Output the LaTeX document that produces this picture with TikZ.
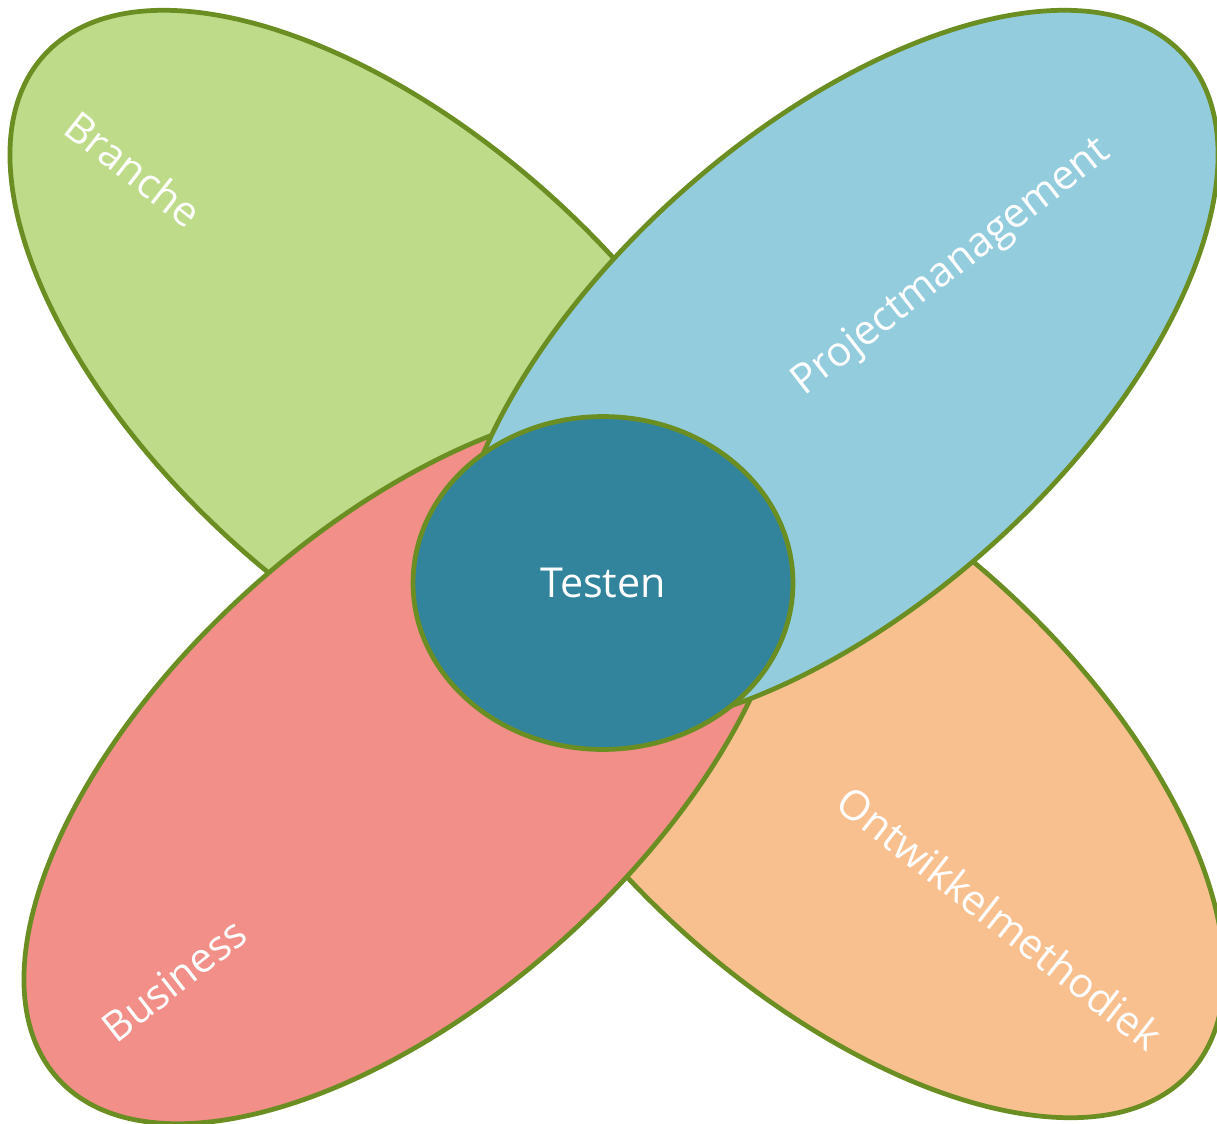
\documentclass[tikz,border=0pt]{standalone}
\usepackage{fontspec}
\setmainfont{Open Sans}
\usetikzlibrary{shapes.geometric}

\definecolor{rim}{HTML}{6B8E23}
\definecolor{leafgreen}{HTML}{BDDB88}
\definecolor{skyblue}{HTML}{93CDDD}
\definecolor{salmon}{HTML}{F28F88}
\definecolor{peach}{HTML}{F9C08F}
\definecolor{deepteal}{HTML}{31849B}

\tikzset{
  petal/.style={ellipse, draw=rim, line width=2.7pt, inner sep=0pt,
    minimum width=18.8cm, minimum height=9.4cm},
  petaltext/.style={text=white, font=\fontsize{23.5}{28}\selectfont}
}

\begin{document}
\begin{tikzpicture}[x=0.02cm, y=-0.02cm]
 \useasboundingbox (0,0) rectangle (1217,1123);
 % back petals
 \node[petal, fill=leafgreen, rotate=-42] (branche) at (393,370) {};
 \node[petal, fill=peach, rotate=-42] (ontwikkel) at (841,758) {};
 % front petals
 \node[petal, fill=salmon, rotate=42] (business) at (407,764) {};
 \node[petal, fill=skyblue, rotate=42] (project) at (835,370) {};
 % centre
 \node[ellipse, draw=rim, line width=2.7pt, fill=deepteal, inner sep=0pt,
   minimum width=7.6cm, minimum height=6.66cm, text=white,
   font=\fontsize{23.5}{28}\selectfont] (testen) at (603,583) {Testen};
 % labels
 \node[petaltext, rotate=-38] (brancheText) at (134,169) {Branche};
 \node[petaltext, rotate=38] (projectText) at (952,268) {Projectmanagement};
 \node[petaltext, rotate=-38] (ontwikkelText) at (1000,918) {Ontwikkelmethodiek};
 \node[petaltext, rotate=38] (businessText) at (174,980) {Business};
\end{tikzpicture}
\end{document}
